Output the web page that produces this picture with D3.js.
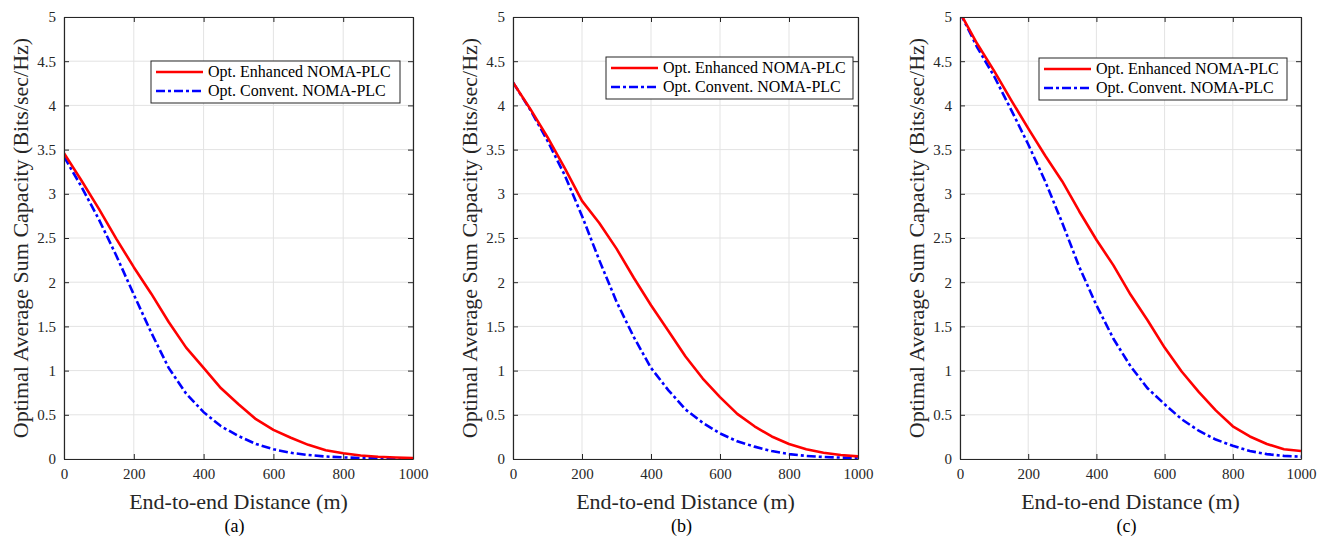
<!DOCTYPE html>
<html>
<head>
  <style type="text/css">
    body { margin: 0; background: #fff; }
  </style>
</head>
<body>
  <svg width="1317" height="537" id="chart"></svg>
  <script src="https://d3js.org/d3.v7.min.js"></script>
  <script>
// distances (m) sampled along the x axis
const distance = [0, 50, 100, 150, 200, 250, 300, 350, 400, 450, 500, 550, 600, 650, 700, 750, 800, 850, 900, 950, 1000]

// panel (a)
const enhancedA = [3.46, 3.15, 2.83, 2.49, 2.17, 1.87, 1.55, 1.26, 1.03, 0.80, 0.62, 0.45, 0.33, 0.24, 0.16, 0.10, 0.065, 0.04, 0.025, 0.017, 0.012]
const conventA  = [3.42, 3.08, 2.71, 2.30, 1.86, 1.43, 1.03, 0.74, 0.53, 0.37, 0.26, 0.17, 0.11, 0.07, 0.045, 0.028, 0.018, 0.011, 0.007, 0.004, 0.003]
// panel (b)
const enhancedB = [4.26, 3.96, 3.64, 3.29, 2.92, 2.67, 2.38, 2.05, 1.74, 1.45, 1.16, 0.91, 0.70, 0.51, 0.37, 0.255, 0.17, 0.11, 0.07, 0.045, 0.03]
const conventB  = [4.26, 3.95, 3.60, 3.21, 2.75, 2.25, 1.78, 1.38, 1.03, 0.78, 0.56, 0.41, 0.29, 0.20, 0.14, 0.09, 0.055, 0.035, 0.023, 0.016, 0.012]
// panel (c)
const enhancedC = [5.05, 4.70, 4.39, 4.06, 3.74, 3.43, 3.14, 2.80, 2.48, 2.19, 1.86, 1.57, 1.26, 0.99, 0.76, 0.55, 0.37, 0.255, 0.17, 0.11, 0.09]
const conventC  = [5.05, 4.66, 4.33, 3.95, 3.56, 3.14, 2.67, 2.17, 1.74, 1.36, 1.05, 0.80, 0.62, 0.45, 0.32, 0.22, 0.15, 0.09, 0.055, 0.035, 0.027]

const xTicks = [0, 200, 400, 600, 800, 1000]
const yTicks = [0, 0.5, 1, 1.5, 2, 2.5, 3, 3.5, 4, 4.5, 5]
const seriesNames = ['Opt. Enhanced NOMA-PLC', 'Opt. Convent. NOMA-PLC']
const panelLabels = ['(a)', '(b)', '(c)']

const panels = [
  { left: 64, right: 413, legend: [151, 61, 249, 42], enh: enhancedA, con: conventA },
  { left: 513, right: 858, legend: [606, 57, 247, 42], enh: enhancedB, con: conventB },
  { left: 960, right: 1301, legend: [1039, 58, 248, 42], enh: enhancedC, con: conventC }
]
const plotTop = 17, plotBottom = 459
const axisColor = '#262626'
const serif = 'Liberation Serif'

const svg = d3.select('#chart')

function label(sel, size, color) {
  return sel.attr('font-family', serif).attr('font-size', size).attr('fill', color)
}

panels.forEach((p, i) => {
  let x = d3.scaleLinear().domain([0, 1000]).range([p.left, p.right])
  let y = d3.scaleLinear().domain([0, 5]).range([plotBottom, plotTop])
  let g = svg.append('g')

  // grid
  g.append('g').selectAll('line').data(xTicks).join('line')
    .attr('x1', d => x(d)).attr('x2', d => x(d)).attr('y1', plotTop).attr('y2', plotBottom)
    .attr('stroke', '#e3e3e3').attr('stroke-width', 1)
  g.append('g').selectAll('line').data(yTicks).join('line')
    .attr('x1', p.left).attr('x2', p.right).attr('y1', d => y(d)).attr('y2', d => y(d))
    .attr('stroke', '#e3e3e3').attr('stroke-width', 1)

  // curves
  let clipId = 'clip' + i
  g.append('clipPath').attr('id', clipId).append('rect')
    .attr('x', p.left).attr('y', plotTop).attr('width', p.right - p.left).attr('height', plotBottom - plotTop)
  let line = d3.line().x((d, j) => x(distance[j])).y(d => y(d))
  let curves = g.append('g').attr('clip-path', 'url(#' + clipId + ')')
  curves.append('path').datum(p.con)
    .attr('d', line).attr('fill', 'none').attr('stroke', '#0000ff')
    .attr('stroke-width', 2.6).attr('stroke-dasharray', '9,3,3,3')
  curves.append('path').datum(p.enh)
    .attr('d', line).attr('fill', 'none').attr('stroke', '#ff0000').attr('stroke-width', 2.6)
    .attr('stroke-linejoin', 'round')

  // axes (box with inward ticks on all sides)
  let axB = g.append('g').attr('transform', 'translate(0,' + plotBottom + ')')
    .call(d3.axisBottom(x).tickValues(xTicks).tickSizeInner(-5).tickSizeOuter(0).tickPadding(9).tickFormat(d3.format('d')))
  let axT = g.append('g').attr('transform', 'translate(0,' + plotTop + ')')
    .call(d3.axisTop(x).tickValues(xTicks).tickSizeInner(-5).tickSizeOuter(0).tickFormat(''))
  let axL = g.append('g').attr('transform', 'translate(' + p.left + ',0)')
    .call(d3.axisLeft(y).tickValues(yTicks).tickSizeInner(-5).tickSizeOuter(0).tickPadding(8).tickFormat(d3.format('')))
  let axR = g.append('g').attr('transform', 'translate(' + p.right + ',0)')
    .call(d3.axisRight(y).tickValues(yTicks).tickSizeInner(-5).tickSizeOuter(0).tickFormat(''))
  ;[axB, axT, axL, axR].forEach(a => {
    a.select('.domain').attr('stroke', axisColor).attr('stroke-width', 1.2)
    a.selectAll('.tick line').attr('stroke', axisColor)
    label(a.selectAll('text'), 15, axisColor)
  })

  // axis labels
  label(g.append('text'), 22, axisColor)
    .attr('x', (p.left + p.right) / 2).attr('y', 509).attr('text-anchor', 'middle')
    .text('End-to-end Distance (m)')
  label(g.append('text'), 22, axisColor)
    .attr('transform', 'translate(' + (p.left - 36) + ',' + ((plotTop + plotBottom) / 2) + ') rotate(-90)')
    .attr('text-anchor', 'middle')
    .text('Optimal Average Sum Capacity (Bits/sec/Hz)')
  label(g.append('text'), 18, '#000')
    .attr('x', (p.left + p.right) / 2 - 4).attr('y', 532).attr('text-anchor', 'middle')
    .text(panelLabels[i])

  // legend
  let [lx, ly, lw, lh] = p.legend
  let lg = g.append('g').attr('transform', 'translate(' + lx + ',' + ly + ')')
  lg.append('rect').attr('width', lw).attr('height', lh)
    .attr('fill', '#fff').attr('stroke', axisColor).attr('stroke-width', 1)
  let styles = [
    { color: '#ff0000', dash: null },
    { color: '#0000ff', dash: '9,3,3,3' }
  ]
  seriesNames.forEach((name, k) => {
    let cy = 11 + k * 19
    lg.append('line').attr('x1', 5).attr('x2', 52).attr('y1', cy).attr('y2', cy)
      .attr('stroke', styles[k].color).attr('stroke-width', 2.6)
      .attr('stroke-dasharray', styles[k].dash)
    label(lg.append('text'), 16, '#000').attr('x', 57).attr('y', cy + 5).text(name)
  })
})
  </script>
</body>
</html>
